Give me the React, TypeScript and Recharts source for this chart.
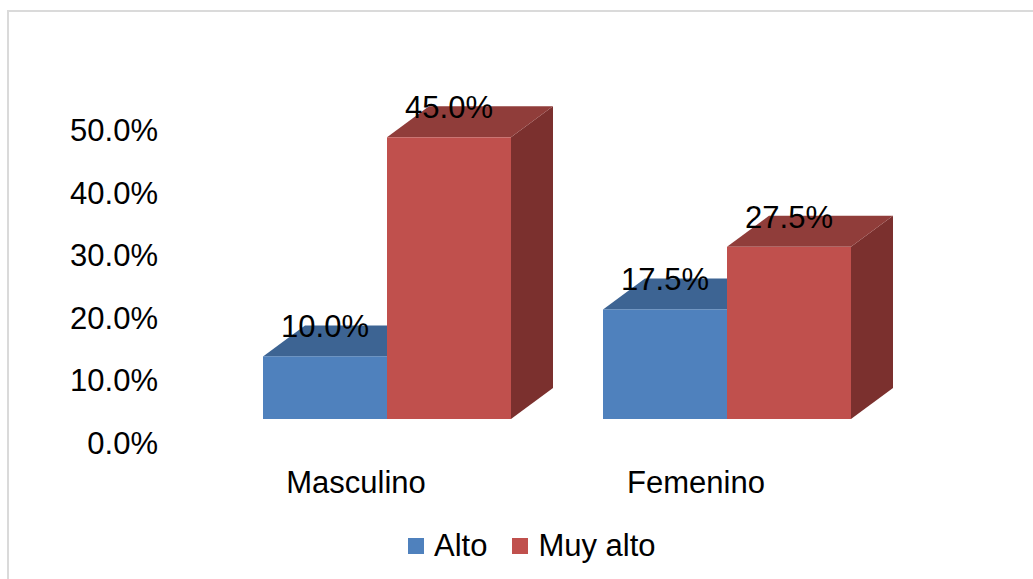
import { BarChart, Bar, XAxis, YAxis, Legend, LabelList } from 'recharts';

const categories = ['Masculino', 'Femenino'];
const alto = [10.0, 17.5];
const muyAlto = [45.0, 27.5];
const yTicks = [0, 10, 20, 30, 40, 50];
const seriesNames = ['Alto', 'Muy alto'];

const data = categories.map((name, i) => ({ name, alto: alto[i], muyAlto: muyAlto[i] }));

const FONT = '"Liberation Sans", Arial, sans-serif';
const DX = 42; // depth of the 3d bars
const DY = 31;

const fmt = (v: number) => `${v.toFixed(1)}%`;

const shades: Record<string, { top: string; side: string }> = {
  '#4F81BD': { top: '#3D6493', side: '#345781' },
  '#C0504D': { top: '#903D3A', side: '#7B302E' },
};

function Bar3D(props: any) {
  const { x, y, width, height, fill } = props;
  if (height <= 0) return null;
  const s = shades[fill];
  const top = `${x},${y} ${x + DX},${y - DY} ${x + width + DX},${y - DY} ${x + width},${y}`;
  const side = `${x + width},${y} ${x + width + DX},${y - DY} ${x + width + DX},${y + height - DY} ${x + width},${y + height}`;
  return (
    <g>
      <polygon points={side} fill={s.side} />
      <polygon points={top} fill={s.top} />
      <rect x={x} y={y} width={width} height={height} fill={fill} />
    </g>
  );
}

function ValueLabel(props: any) {
  const { x, y, width, value } = props;
  return (
    <text x={x + width / 2} y={y - DY + 1} dy="0.355em" textAnchor="middle" fontSize={31} fontFamily={FONT} fill="#000">
      {fmt(value)}
    </text>
  );
}

function YTick(props: any) {
  const { x, y, payload } = props;
  return (
    <text x={x} y={y + 24} dy="0.355em" textAnchor="end" fontSize={31} fontFamily={FONT} fill="#000">
      {fmt(payload.value)}
    </text>
  );
}

function XTick(props: any) {
  const { x, y, payload } = props;
  return (
    <text x={x - 31} y={y} dy="0.71em" textAnchor="middle" fontSize={31} fontFamily={FONT} fill="#000">
      {payload.value}
    </text>
  );
}

function LegendContent() {
  const colors = ['#4F81BD', '#C0504D'];
  return (
    <div style={{ display: 'flex', alignItems: 'center', fontFamily: FONT, fontSize: 31, height: 32 }}>
      {seriesNames.map((n, i) => (
        <div key={n} style={{ display: 'flex', alignItems: 'center', marginRight: 25 }}>
          <span style={{ width: 16, height: 16, background: colors[i], marginRight: 10, display: 'inline-block' }} />
          <span style={{ lineHeight: '32px' }}>{n}</span>
        </div>
      ))}
    </div>
  );
}

export default function App() {
  return (
    <div style={{ position: 'relative', width: 1033, height: 579, overflow: 'hidden', background: '#fff' }}>
      <style>{`body{margin:0}`}</style>
      <div
        style={{
          position: 'absolute',
          left: 7,
          top: 10,
          width: 1100,
          height: 700,
          border: '2px solid #DADADA',
          boxSizing: 'border-box',
        }}
      />
      <div style={{ position: 'absolute', left: 0, top: 0 }}>
        <BarChart
          width={1033}
          height={579}
          data={data}
          margin={{ top: 106, right: 136, left: 117, bottom: 100 }}
          barCategoryGap={46}
          barGap={0}
        >
          <XAxis
            dataKey="name"
            axisLine={false}
            tickLine={false}
            tickSize={0}
            tickMargin={52}
            height={60}
            tick={<XTick />}
          />
          <YAxis
            domain={[0, 50]}
            ticks={yTicks}
            axisLine={false}
            tickLine={false}
            tickSize={0}
            tickMargin={59}
            width={100}
            tick={<YTick />}
          />
          <Legend
            layout="horizontal"
            align="center"
            verticalAlign="middle"
            content={<LegendContent />}
            wrapperStyle={{ left: 408, top: 530, width: 400 }}
          />
          <Bar dataKey="alto" name={seriesNames[0]} fill="#4F81BD" shape={<Bar3D />} isAnimationActive={false}>
            <LabelList dataKey="alto" content={<ValueLabel />} />
          </Bar>
          <Bar dataKey="muyAlto" name={seriesNames[1]} fill="#C0504D" shape={<Bar3D />} isAnimationActive={false}>
            <LabelList dataKey="muyAlto" content={<ValueLabel />} />
          </Bar>
        </BarChart>
      </div>
    </div>
  );
}
